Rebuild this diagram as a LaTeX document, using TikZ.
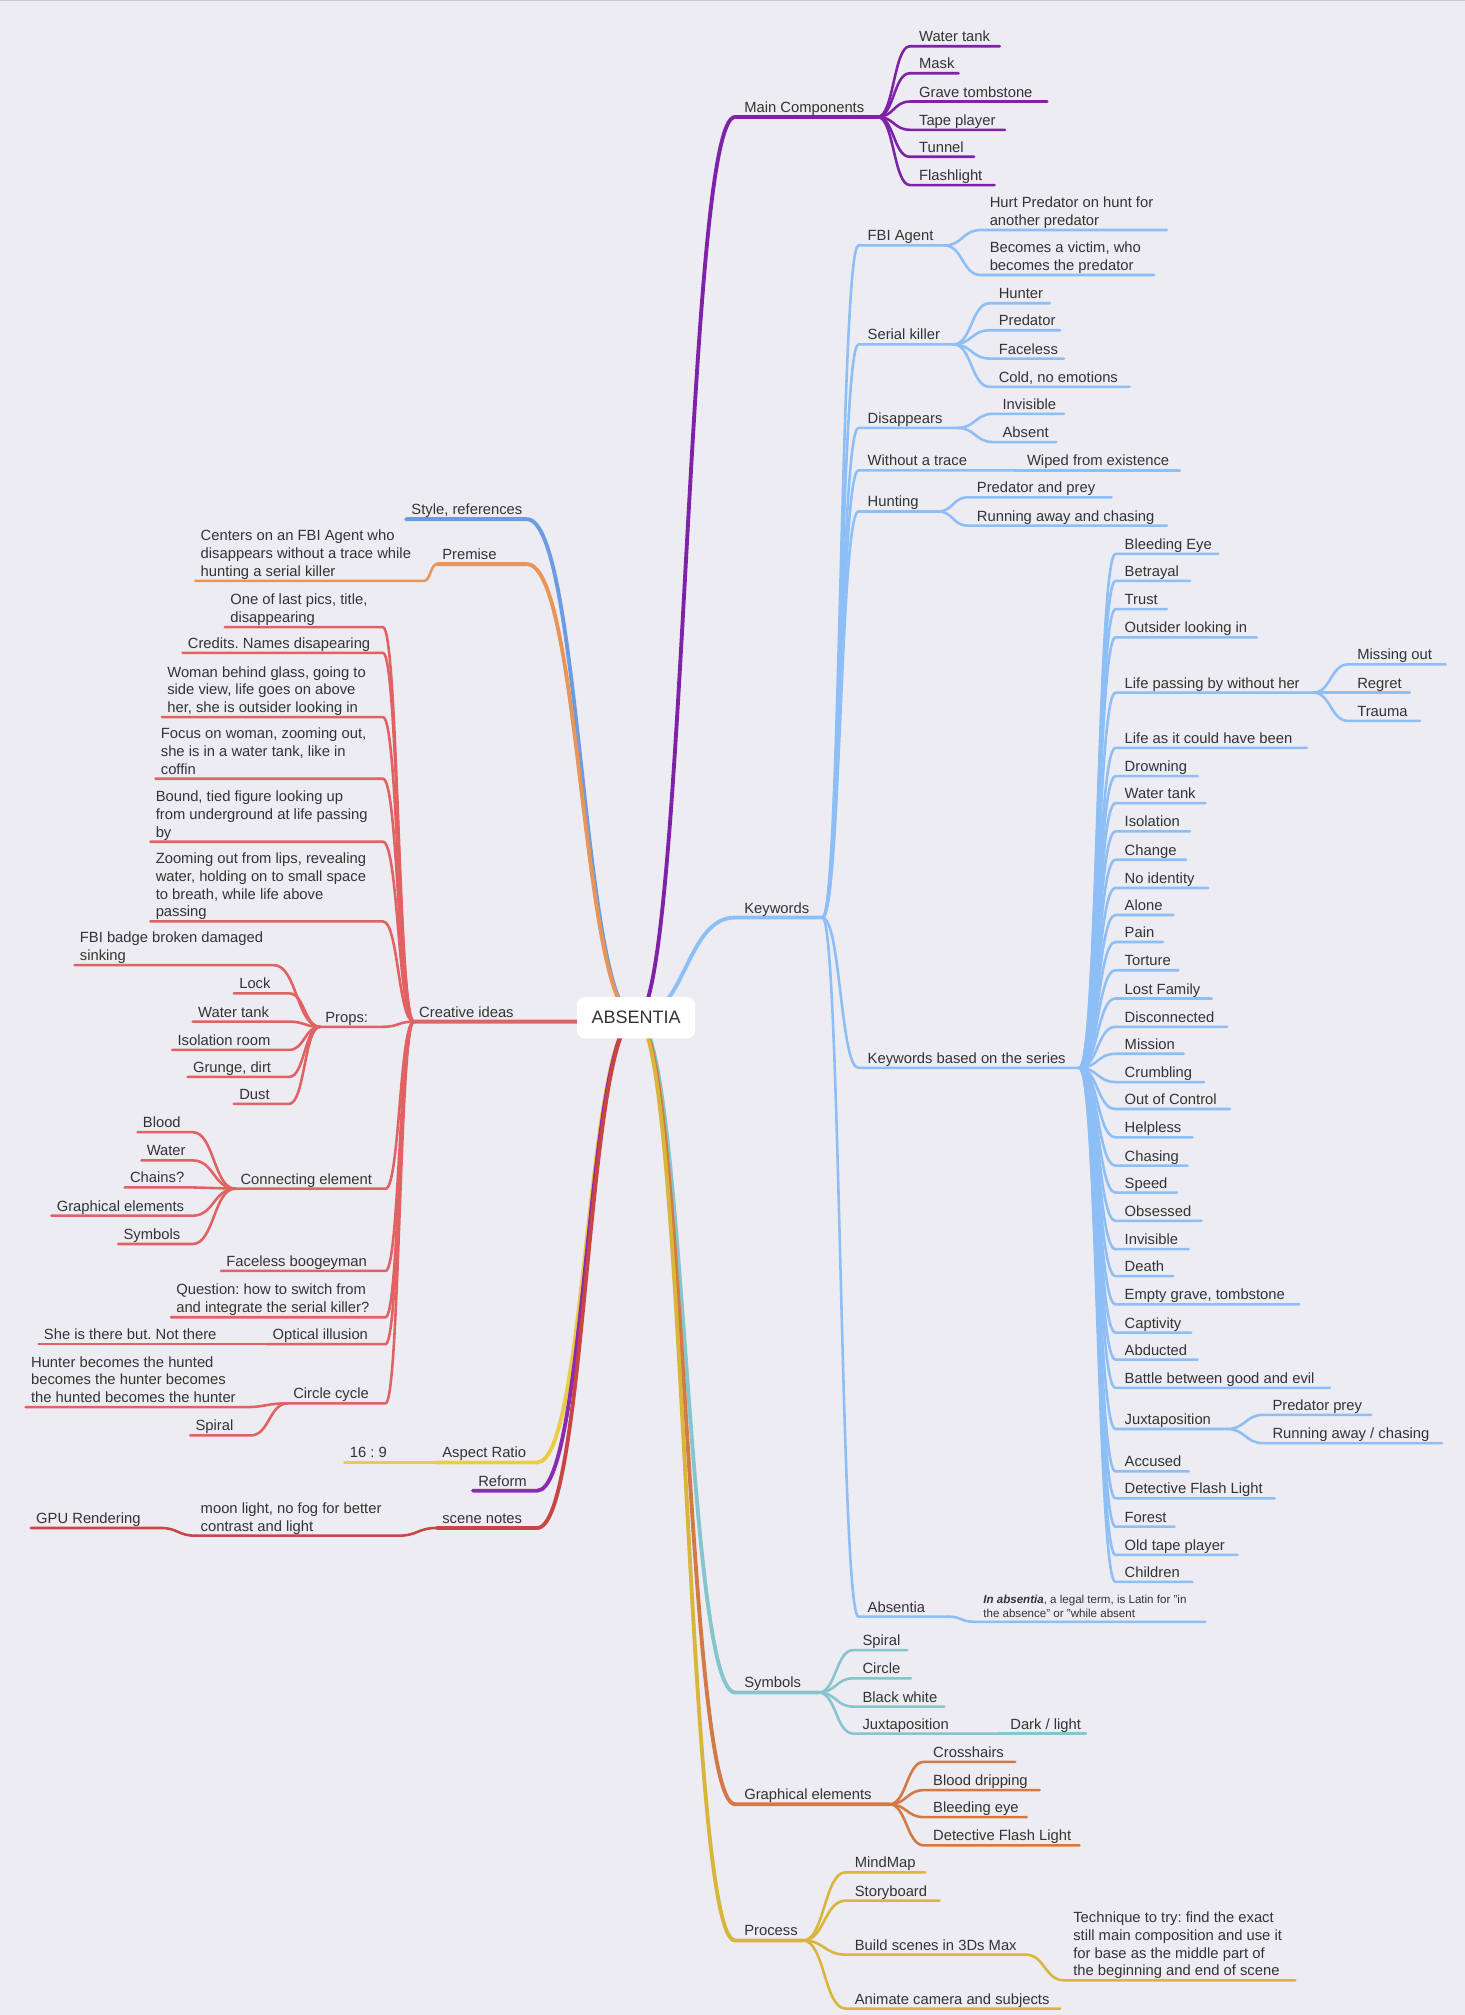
\documentclass[tikz,border=0pt]{standalone}
\usepackage{fontspec}
\setmainfont{Liberation Sans}
\frenchspacing
\usetikzlibrary{calc}
\definecolor{bg}{HTML}{EDECF2}
\definecolor{txt}{HTML}{333333}
\definecolor{cpur}{HTML}{7E22A8}
\definecolor{clb}{HTML}{8DBEF6}
\definecolor{cteal}{HTML}{86C5CB}
\definecolor{corg}{HTML}{D27A45}
\definecolor{cgold}{HTML}{D9B63B}
\definecolor{csb}{HTML}{6B9BE0}
\definecolor{cpre}{HTML}{EA9558}
\definecolor{cred}{HTML}{E06262}
\definecolor{casp}{HTML}{ECCB45}
\definecolor{cref}{HTML}{8A2BB0}
\definecolor{csn}{HTML}{C94545}
\tikzset{lbl/.style={anchor=south west,inner sep=0pt,align=left,text depth=3pt,text=txt,font=\fontsize{11.5}{13.8}\selectfont},
small/.style={font=\fontsize{9}{11}\selectfont}}
\newcommand{\Rk}[9][]{%
\coordinate (#2-s) at (#6,#8); \coordinate (#2-e) at (#7,#8);
\coordinate (tmp) at ($(#5)!.5!(#2-s)$);
\draw[#3,line width=#4,line cap=round] (#5) .. controls (tmp|-#5) and (tmp|-#2-s) .. (#2-s) -- (#2-e);
\node[lbl,#1] (#2) at ([xshift=7pt,yshift=0.3pt]#2-s) {#9};}
\newcommand{\Lk}[8]{%
\coordinate (#1-s) at (#5,#7); \coordinate (#1-e) at (#6,#7);
\coordinate (tmp) at ($(#4)!.5!(#1-e)$);
\draw[#2,line width=#3,line cap=round] (#4) .. controls (tmp|-#4) and (tmp|-#1-e) .. (#1-e) -- (#1-s);
\node[lbl] (#1) at ([xshift=4pt,yshift=0.3pt]#1-s) {#8};}
\begin{document}
\begin{tikzpicture}[x=1pt,y=-1pt]
\fill[bg] (0,0) rectangle (1140,1568);
\useasboundingbox (0,0) rectangle (1140,1568);
\draw[gray!40] (0,0.5) -- (1140,0.5);
\coordinate (c) at (495,792);
% ---------- right: Main Components
\Rk{mc}{cpur}{3pt}{c}{572}{683}{91}{Main Components}
\Rk{m1}{cpur}{2pt}{mc-e}{708}{778}{36}{Water tank}
\Rk{m2}{cpur}{2pt}{mc-e}{708}{746}{57}{Mask}
\Rk{m3}{cpur}{2pt}{mc-e}{708}{815}{79}{Grave tombstone}
\Rk{m4}{cpur}{2pt}{mc-e}{708}{782}{101}{Tape player}
\Rk{m5}{cpur}{2pt}{mc-e}{708}{758}{122}{Tunnel}
\Rk{m6}{cpur}{2pt}{mc-e}{708}{774}{144}{Flashlight}
% ---------- Keywords
\Rk{kw}{clb}{3pt}{c}{572}{640}{714}{Keywords}
\Rk{fbi}{clb}{2pt}{kw-e}{668}{735}{191}{FBI Agent}
\Rk{f1}{clb}{2pt}{fbi-e}{763}{908}{179}{Hurt Predator on hunt for\\another predator}
\Rk{f2}{clb}{2pt}{fbi-e}{763}{898}{214}{Becomes a victim, who\\becomes the predator}
\Rk{sk}{clb}{2pt}{kw-e}{668}{742}{268}{Serial killer}
\Rk{s1}{clb}{2pt}{sk-e}{770}{817}{236}{Hunter}
\Rk{s2}{clb}{2pt}{sk-e}{770}{825}{257}{Predator}
\Rk{s3}{clb}{2pt}{sk-e}{770}{828}{279}{Faceless}
\Rk{s4}{clb}{2pt}{sk-e}{770}{879}{301}{Cold, no emotions}
\Rk{dis}{clb}{2pt}{kw-e}{668}{745}{333}{Disappears}
\Rk{d1}{clb}{2pt}{dis-e}{773}{828}{322}{Invisible}
\Rk{d2}{clb}{2pt}{dis-e}{773}{822}{344}{Absent}
\Rk{wt}{clb}{2pt}{kw-e}{668}{790}{366}{Without a trace}
\Rk{w1}{clb}{2pt}{wt-e}{792}{918}{366}{Wiped from existence}
\Rk{hu}{clb}{2pt}{kw-e}{668}{730}{398}{Hunting}
\Rk{h1}{clb}{2pt}{hu-e}{753}{865}{387}{Predator and prey}
\Rk{h2}{clb}{2pt}{hu-e}{753}{908}{409}{Running away and chasing}
\Rk{kb}{clb}{2pt}{kw-e}{668}{840}{831}{Keywords based on the series}
\Rk{k1}{clb}{2pt}{kb-e}{868}{948}{431}{Bleeding Eye}
\Rk{k2}{clb}{2pt}{kb-e}{868}{926}{452}{Betrayal}
\Rk{k3}{clb}{2pt}{kb-e}{868}{908}{474}{Trust}
\Rk{k4}{clb}{2pt}{kb-e}{868}{978}{496}{Outsider looking in}
\Rk{k5}{clb}{2pt}{kb-e}{868}{1022}{539}{Life passing by without her}
\Rk{k5a}{clb}{2pt}{k5-e}{1049}{1125}{517}{Missing out}
\Rk{k5b}{clb}{2pt}{k5-e}{1049}{1097}{539}{Regret}
\Rk{k5c}{clb}{2pt}{k5-e}{1049}{1105}{561}{Trauma}
\Rk{k6}{clb}{2pt}{kb-e}{868}{1017}{582}{Life as it could have been}
\Rk{k7}{clb}{2pt}{kb-e}{868}{932}{604}{Drowning}
\Rk{k8}{clb}{2pt}{kb-e}{868}{938}{625}{Water tank}
\Rk{k9}{clb}{2pt}{kb-e}{868}{926}{647}{Isolation}
\Rk{k10}{clb}{2pt}{kb-e}{868}{923}{669}{Change}
\Rk{k11}{clb}{2pt}{kb-e}{868}{940}{691}{No identity}
\Rk{k12}{clb}{2pt}{kb-e}{868}{913}{712}{Alone}
\Rk{k13}{clb}{2pt}{kb-e}{868}{905}{733}{Pain}
\Rk{k14}{clb}{2pt}{kb-e}{868}{917}{755}{Torture}
\Rk{k15}{clb}{2pt}{kb-e}{868}{943}{777}{Lost Family}
\Rk{k16}{clb}{2pt}{kb-e}{868}{955}{799}{Disconnected}
\Rk{k17}{clb}{2pt}{kb-e}{868}{921}{820}{Mission}
\Rk{k18}{clb}{2pt}{kb-e}{868}{937}{842}{Crumbling}
\Rk{k19}{clb}{2pt}{kb-e}{868}{957}{863}{Out of Control}
\Rk{k20}{clb}{2pt}{kb-e}{868}{928}{885}{Helpless}
\Rk{k21}{clb}{2pt}{kb-e}{868}{924}{907}{Chasing}
\Rk{k22}{clb}{2pt}{kb-e}{868}{916}{928}{Speed}
\Rk{k23}{clb}{2pt}{kb-e}{868}{935}{950}{Obsessed}
\Rk{k24}{clb}{2pt}{kb-e}{868}{925}{972}{Invisible}
\Rk{k25}{clb}{2pt}{kb-e}{868}{913}{993}{Death}
\Rk{k26}{clb}{2pt}{kb-e}{868}{1011}{1015}{Empty grave, tombstone}
\Rk{k27}{clb}{2pt}{kb-e}{868}{927}{1037}{Captivity}
\Rk{k28}{clb}{2pt}{kb-e}{868}{932}{1058}{Abducted}
\Rk{k29}{clb}{2pt}{kb-e}{868}{1035}{1080}{Battle between good and evil}
\Rk{k30}{clb}{2pt}{kb-e}{868}{955}{1112}{Juxtaposition}
\Rk{k30a}{clb}{2pt}{k30-e}{983}{1067}{1101}{Predator prey}
\Rk{k30b}{clb}{2pt}{k30-e}{983}{1122}{1123}{Running away / chasing}
\Rk{k31}{clb}{2pt}{kb-e}{868}{925}{1145}{Accused}
\Rk{k32}{clb}{2pt}{kb-e}{868}{992}{1166}{Detective Flash Light}
\Rk{k33}{clb}{2pt}{kb-e}{868}{914}{1188}{Forest}
\Rk{k34}{clb}{2pt}{kb-e}{868}{963}{1210}{Old tape player}
\Rk{k35}{clb}{2pt}{kb-e}{868}{928}{1231}{Children}
\Rk{ab}{clb}{2pt}{kw-e}{668}{738}{1258}{Absentia}
\Rk[small]{ab1}{clb}{2pt}{ab-e}{758}{938}{1262}{\textbf{\textit{In absentia}}, a legal term, is Latin for "in\\the absence" or "while absent}
% ---------- Symbols
\Rk{sy}{cteal}{3pt}{c}{572}{637}{1317}{Symbols}
\Rk{y1}{cteal}{2pt}{sy-e}{664}{706}{1284}{Spiral}
\Rk{y2}{cteal}{2pt}{sy-e}{664}{709}{1306}{Circle}
\Rk{y3}{cteal}{2pt}{sy-e}{664}{735}{1328}{Black white}
\Rk{y4}{cteal}{2pt}{sy-e}{664}{777}{1349}{Juxtaposition}
\Rk{y4a}{cteal}{2pt}{y4-e}{779}{845}{1349}{Dark / light}
% ---------- Graphical elements
\Rk{ge}{corg}{3pt}{c}{572}{692}{1404}{Graphical elements}
\Rk{g1}{corg}{2pt}{ge-e}{719}{790}{1371}{Crosshairs}
\Rk{g2}{corg}{2pt}{ge-e}{719}{809}{1393}{Blood dripping}
\Rk{g3}{corg}{2pt}{ge-e}{719}{799}{1414}{Bleeding eye}
\Rk{g4}{corg}{2pt}{ge-e}{719}{840}{1436}{Detective Flash Light}
% ---------- Process
\Rk{pr}{cgold}{3pt}{c}{572}{625}{1510}{Process}
\Rk{p1}{cgold}{2pt}{pr-e}{658}{720}{1457}{MindMap}
\Rk{p2}{cgold}{2pt}{pr-e}{658}{731}{1479}{Storyboard}
\Rk{p3}{cgold}{2pt}{pr-e}{658}{798}{1521}{Build scenes in 3Ds Max}
\Rk{p3a}{cgold}{2pt}{p3-e}{828}{1008}{1541}{Technique to try: find the exact\\still main composition and use it\\for base as the middle part of\\the beginning and end of scene}
\Rk{p4}{cgold}{2pt}{pr-e}{658}{825}{1563}{Animate camera and subjects}
% ---------- left side
\Lk{sr}{csb}{3pt}{c}{316}{410}{404}{Style, references}
\Lk{pm}{cpre}{3pt}{c}{340}{410}{439}{Premise}
\Lk{pm1}{cpre}{2pt}{pm-s}{152}{330}{452}{Centers on an FBI Agent who\\disappears without a trace while\\hunting a serial killer}
\Lk{ci}{cred}{3pt}{c}{322}{450}{795}{Creative ideas}
\Lk{c1}{cred}{2pt}{ci-s}{175}{298}{488}{One of last pics, title,\\disappearing}
\Lk{c2}{cred}{2pt}{ci-s}{142}{298}{508}{Credits. Names disapearing}
\Lk{c3}{cred}{2pt}{ci-s}{126}{298}{558}{Woman behind glass, going to\\side view, life goes on above\\her, she is outsider looking in}
\Lk{c4}{cred}{2pt}{ci-s}{121}{298}{606}{Focus on woman, zooming out,\\she is in a water tank, like in\\coffin}
\Lk{c5}{cred}{2pt}{ci-s}{117}{298}{655}{Bound, tied figure looking up\\from underground at life passing\\by}
\Lk{c6}{cred}{2pt}{ci-s}{117}{298}{717}{Zooming out from lips, revealing\\water, holding on to small space\\to breath, while life above\\passing}
\Lk{pp}{cred}{2pt}{ci-s}{249}{298}{799}{Props:}
\Lk{pp1}{cred}{2pt}{pp-s}{58}{213}{751}{FBI badge broken damaged\\sinking}
\Lk{pp2}{cred}{2pt}{pp-s}{182}{225}{773}{Lock}
\Lk{pp3}{cred}{2pt}{pp-s}{150}{225}{795}{Water tank}
\Lk{pp4}{cred}{2pt}{pp-s}{134}{225}{817}{Isolation room}
\Lk{pp5}{cred}{2pt}{pp-s}{146}{225}{838}{Grunge, dirt}
\Lk{pp6}{cred}{2pt}{pp-s}{182}{225}{859}{Dust}
\Lk{ce}{cred}{2pt}{ci-s}{183}{300}{925}{Connecting element}
\Lk{ce1}{cred}{2pt}{ce-s}{107}{150}{881}{Blood}
\Lk{ce2}{cred}{2pt}{ce-s}{110}{150}{903}{Water}
\Lk{ce3}{cred}{2pt}{ce-s}{97}{150}{924}{Chains?}
\Lk{ce4}{cred}{2pt}{ce-s}{40}{150}{946}{Graphical elements}
\Lk{ce5}{cred}{2pt}{ce-s}{92}{150}{968}{Symbols}
\Lk{c7}{cred}{2pt}{ci-s}{172}{300}{989}{Faceless boogeyman}
\Lk{c8}{cred}{2pt}{ci-s}{133}{300}{1025}{Question: how to switch from\\and integrate the serial killer?}
\Lk{ol}{cred}{2pt}{ci-s}{208}{300}{1046}{Optical illusion}
\Lk{ol1}{cred}{2pt}{ol-s}{30}{195}{1046}{She is there but. Not there}
\Lk{cc}{cred}{2pt}{ci-s}{224}{300}{1092}{Circle cycle}
\Lk{cc1}{cred}{2pt}{cc-s}{20}{190}{1095}{Hunter becomes the hunted\\becomes the hunter becomes\\the hunted becomes the hunter}
\Lk{cc2}{cred}{2pt}{cc-s}{148}{195}{1117}{Spiral}
\Lk{ar}{casp}{3pt}{c}{340}{418}{1138}{Aspect Ratio}
\Lk{ar1}{casp}{2pt}{ar-s}{268}{330}{1138}{16 : 9}
\Lk{rf}{cref}{3pt}{c}{368}{418}{1160}{Reform}
\Lk{sn}{csn}{3pt}{c}{340}{418}{1189}{scene notes}
\Lk{sn1}{csn}{2pt}{sn-s}{152}{310}{1195}{moon light, no fog for better\\contrast and light}
\Lk{sn2}{csn}{2pt}{sn1-s}{24}{125}{1189}{GPU Rendering}
% center
\node[fill=white,rounded corners=6pt,minimum width=92pt,minimum height=32pt,text=txt,font=\fontsize{14}{16}\selectfont] (root) at (c) {ABSENTIA};
\end{tikzpicture}
\end{document}
